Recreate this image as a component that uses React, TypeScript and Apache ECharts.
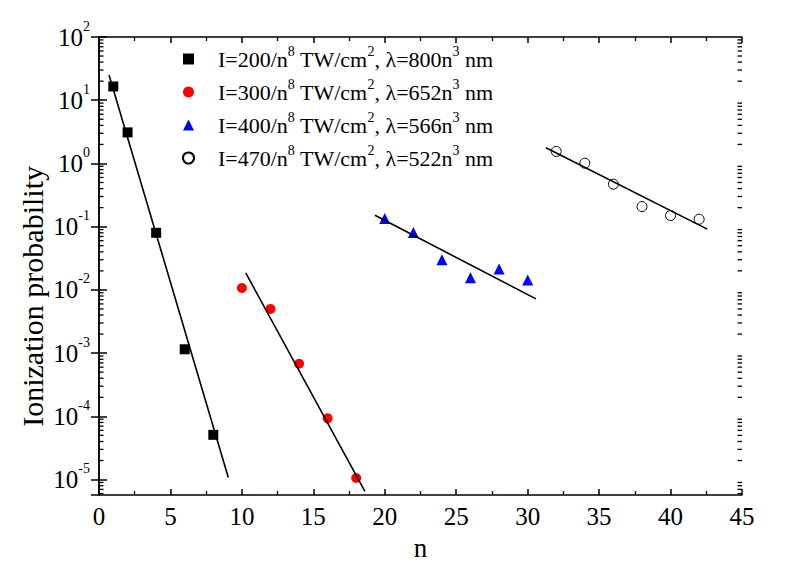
import React, { useEffect, useRef } from "react";
import * as echarts from "echarts";

const seriesNames = [
  "I=200/n8 TW/cm2, λ=800n3 nm",
  "I=300/n8 TW/cm2, λ=652n3 nm",
  "I=400/n8 TW/cm2, λ=566n3 nm",
  "I=470/n8 TW/cm2, λ=522n3 nm",
];
const legendIntensity = ["200", "300", "400", "470"];
const legendLambda = ["800", "652", "566", "522"];

const nBlack = [1, 2, 4, 6, 8];
const pBlack = [16.5, 3.1, 0.08, 0.00115, 5.1e-5];
const nRed = [10, 12, 14, 16, 18];
const pRed = [0.0107, 0.005, 6.8e-4, 9.3e-5, 1.06e-5];
const nBlue = [20, 22, 24, 26, 28, 30];
const pBlue = [0.135, 0.081, 0.03, 0.0155, 0.0214, 0.0144];
const nOpen = [32, 34, 36, 38, 40, 42];
const pOpen = [1.55, 1.01, 0.47, 0.208, 0.15, 0.131];

const fitBlackN = [0.7, 9.05];
const fitBlackP = [25.1, 1.08e-5];
const fitRedN = [10.27, 18.61];
const fitRedP = [0.01854, 6.52e-6];
const fitBlueN = [19.31, 30.58];
const fitBlueP = [0.1517, 0.00721];
const fitOpenN = [31.28, 42.57];
const fitOpenP = [1.766, 0.0914];

const xMin = 0;
const xMax = 45;
const xInterval = 5;
const yMin = 5.7e-6;
const yMax = 100;
const minorMantissas = [2, 3, 4, 5, 6, 7, 8, 9];
const minorExponents = [-6, -5, -4, -3, -2, -1, 0, 1];

const yTitle = "Ionization probability";
const xTitle = "n";

const FONT = "Liberation Serif";

const zip = (xs: number[], ys: number[]) => xs.map((x, i) => [x, ys[i]]);

export default function App() {
  const ref = useRef<HTMLDivElement>(null);
  useEffect(() => {
    if (!ref.current) return;
    const chart = echarts.init(ref.current, undefined, { renderer: "svg" });

    const minorVals: number[] = [];
    minorExponents.forEach((e) =>
      minorMantissas.forEach((m) => {
        const v = m * Math.pow(10, e);
        if (v > yMin && v < yMax) minorVals.push(v);
      })
    );

    const legendRich = {
      sp: { width: 19 },
      t: { fontFamily: FONT, fontSize: 22, color: "#000" },
      s: { fontFamily: FONT, fontSize: 14, color: "#000", padding: [0, 0, 16, 0] },
    };

    const xAxisCommon = {
      type: "value",
      min: xMin,
      max: xMax,
      interval: xInterval,
      axisLine: { show: true, lineStyle: { color: "#000", width: 1.5 } },
      axisTick: { show: true, inside: true, length: 6, lineStyle: { color: "#000", width: 1.5 } },
      minorTick: { show: true, splitNumber: 2, length: 4, lineStyle: { color: "#000", width: 1.3 } },
      splitLine: { show: false },
      minorSplitLine: { show: false },
    };
    const yAxisCommon = {
      type: "log",
      min: yMin,
      max: yMax,
      axisLine: { show: true, lineStyle: { color: "#000", width: 1.5 } },
      axisTick: { show: true, inside: true, length: 8, lineStyle: { color: "#000", width: 1.5 } },
      splitLine: { show: false },
    };

    const legendFormatter = (name: string) => {
      const i = seriesNames.indexOf(name);
      return `{sp| }{t|I=${legendIntensity[i]}/n}{s|8}{t| TW/cm}{s|2}{t|, λ=${legendLambda[i]}n}{s|3}{t| nm}`;
    };

    const minorTickSeries = (xEdge: number, offset: number) => ({
      type: "scatter",
      silent: true,
      clip: false,
      symbol: "rect",
      symbolSize: [4.5, 1.3],
      symbolOffset: [offset, 0],
      data: minorVals.map((v) => [xEdge, v]),
      itemStyle: { color: "#000", opacity: 1 },
      z: 2,
    });

    chart.setOption({
      animation: false,
      backgroundColor: "#fff",
      textStyle: { fontFamily: FONT, color: "#000" },
      grid: { left: 99, right: 58, top: 37, bottom: 69 },
      graphic: [
        {
          type: "text",
          left: 17,
          top: 166,
          rotation: Math.PI / 2,
          style: { text: yTitle, fontFamily: FONT, fontSize: 30, fill: "#000" },
        },
      ],
      legend: {
        data: seriesNames,
        orient: "vertical",
        left: 182,
        top: 44,
        itemWidth: 11,
        itemHeight: 11,
        itemGap: 7,
        padding: 0,
        formatter: legendFormatter,
        textStyle: { fontFamily: FONT, fontSize: 22, color: "#000", rich: legendRich },
      },
      xAxis: [
        {
          ...xAxisCommon,
          position: "bottom",
          name: xTitle,
          nameLocation: "middle",
          nameGap: 39,
          nameTextStyle: { fontFamily: FONT, fontSize: 27, color: "#000" },
          axisLabel: { margin: 9, fontFamily: FONT, fontSize: 25, color: "#000" },
        },
        { ...xAxisCommon, position: "top", axisLabel: { show: false } },
      ],
      yAxis: [
        {
          ...yAxisCommon,
          position: "left",
          axisLabel: {
            margin: 9,
            showMinLabel: false,
            fontFamily: FONT,
            fontSize: 25,
            color: "#000",
            formatter: (v: number) => "{b|10}{s|" + Math.round(Math.log10(v)) + "}",
            rich: {
              b: { fontFamily: FONT, fontSize: 25, color: "#000" },
              s: { fontFamily: FONT, fontSize: 14, color: "#000", padding: [0, 0, 22, 0] },
            },
          },
        },
        { ...yAxisCommon, position: "right", axisLabel: { show: false } },
      ],
      series: [
        minorTickSeries(xMin, 2.25),
        minorTickSeries(xMax, -2.25),
        {
          type: "scatter",
          name: seriesNames[0],
          symbol: "rect",
          symbolSize: 10,
          data: zip(nBlack, pBlack),
          itemStyle: { color: "#000", opacity: 1 },
          z: 3,
        },
        {
          type: "scatter",
          name: seriesNames[1],
          symbol: "circle",
          symbolSize: 10,
          data: zip(nRed, pRed),
          itemStyle: { color: "#ff0000", opacity: 1 },
          z: 3,
        },
        {
          type: "scatter",
          name: seriesNames[2],
          symbol: "triangle",
          symbolSize: 11,
          data: zip(nBlue, pBlue),
          itemStyle: { color: "#0000ff", opacity: 1 },
          z: 3,
        },
        {
          type: "scatter",
          name: seriesNames[3],
          symbol: "circle",
          symbolSize: 10,
          data: zip(nOpen, pOpen),
          itemStyle: { color: "rgba(255,255,255,0)", borderColor: "#000", borderWidth: 1, opacity: 1 },
          z: 3,
        },
        ...[
          [fitBlackN, fitBlackP],
          [fitRedN, fitRedP],
          [fitBlueN, fitBlueP],
          [fitOpenN, fitOpenP],
        ].map(([fx, fy]) => ({
          type: "line",
          symbol: "none",
          silent: true,
          data: zip(fx, fy),
          lineStyle: { color: "#000", width: 1.6 },
          z: 4,
        })),
      ],
    });
    return () => chart.dispose();
  }, []);
  return <div ref={ref} style={{ width: 800, height: 566, position: "absolute", left: 0, top: 0 }} />;
}
